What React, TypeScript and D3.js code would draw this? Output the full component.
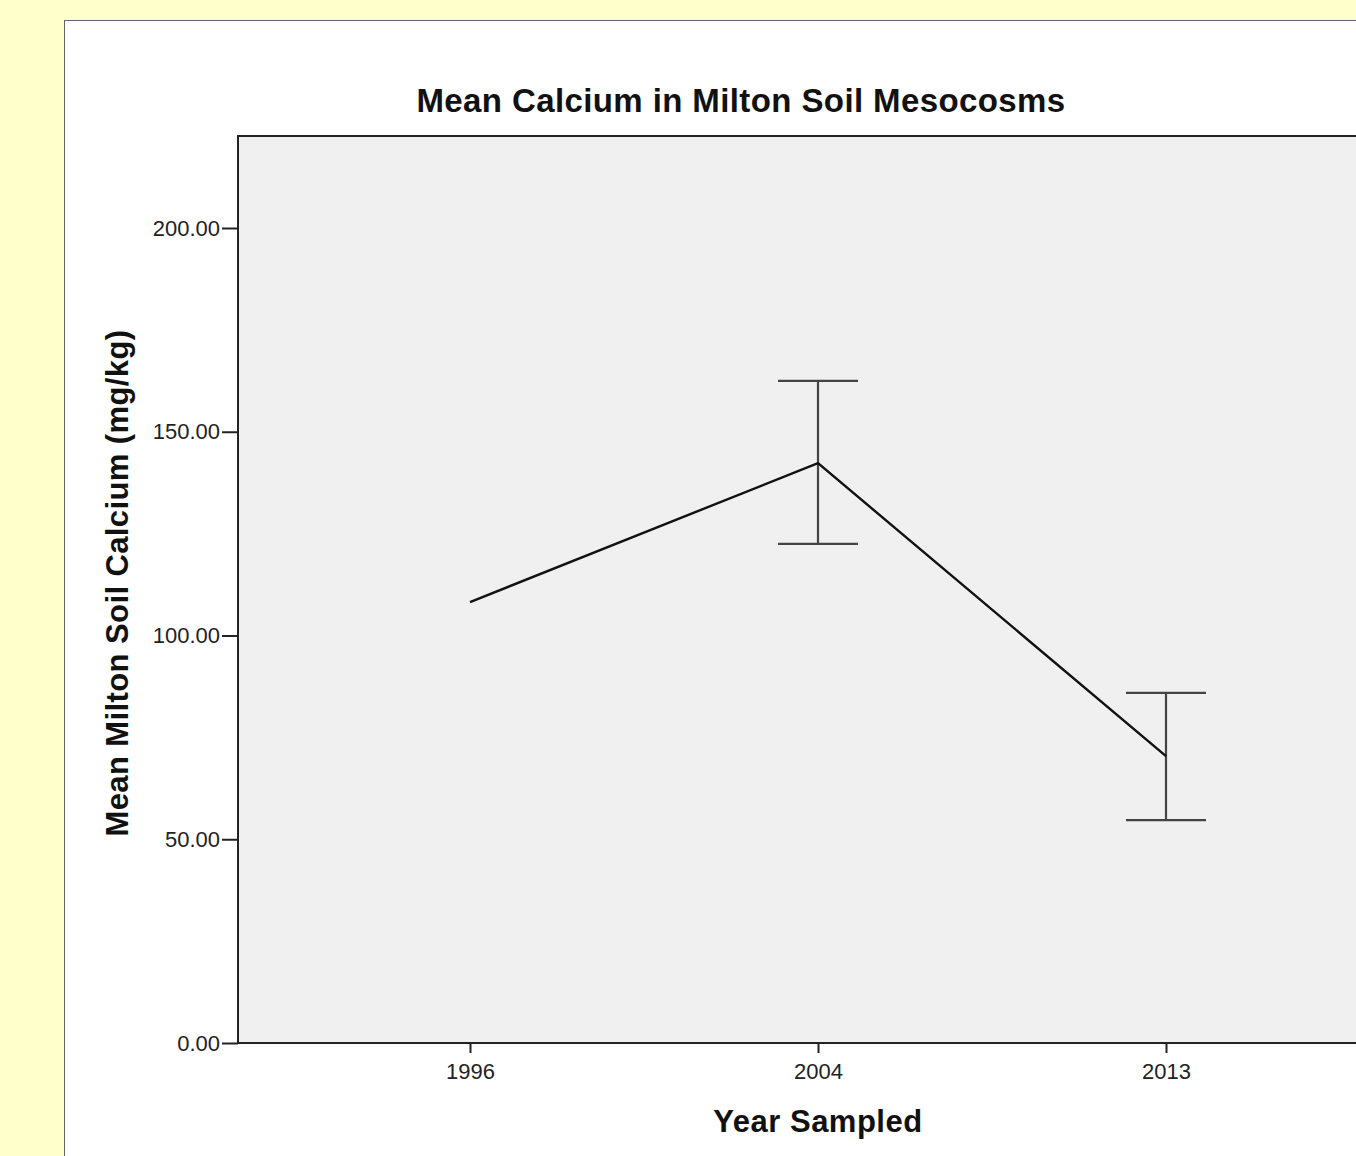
import React, { useEffect, useRef } from 'react';
import * as d3 from 'd3';

// data
const years = ['1996', '2004', '2013'];
const means = [108.2, 142.3, 70.4];
const upper = [null, 162.5, 85.9];
const lower = [null, 122.5, 54.7];
const yTicks = [0, 50, 100, 150, 200];

const App = () => {
  const ref = useRef<SVGSVGElement>(null);

  const width = 1356, height = 1156;
  const plotLeft = 238, plotTop = 136, plotBottom = 1043, plotRight = 1398;

  useEffect(() => {
    const svg = d3.select(ref.current);
    svg.selectAll('*').remove();

    // background
    svg.append('rect').attr('width', width).attr('height', height).attr('fill', '#FFFFCC');
    svg.append('rect')
      .attr('x', 64.5).attr('y', 20.5)
      .attr('width', width).attr('height', height)
      .attr('fill', '#fff').attr('stroke', '#666').attr('stroke-width', 1);

    const x = d3.scalePoint()
      .domain(years)
      .range([plotLeft, plotRight])
      .padding(2 / 3);

    const y = d3.scaleLinear()
      .domain([0, (plotBottom - plotTop) / ((plotBottom - 228) / 200)])
      .range([plotBottom, plotTop]);

    // plot area
    svg.append('rect')
      .attr('x', plotLeft).attr('y', plotTop)
      .attr('width', plotRight - plotLeft).attr('height', plotBottom - plotTop)
      .attr('fill', '#F0F0F0').attr('stroke', '#222').attr('stroke-width', 2);

    const font = 'Liberation Sans, Arial, sans-serif';

    // y axis
    svg.append('g')
      .attr('transform', `translate(${plotLeft},0)`)
      .call(d3.axisLeft(y).tickValues(yTicks).tickFormat(d3.format('.2f')).tickSize(16).tickPadding(2))
      .call(g => {
        g.select('.domain').remove();
        g.selectAll('.tick line').attr('stroke', '#222').attr('stroke-width', 2);
        g.selectAll('.tick text')
          .attr('font-family', font).attr('font-size', 22).attr('fill', '#222');
      });

    // x axis
    svg.append('g')
      .attr('transform', `translate(0,${plotBottom})`)
      .call(d3.axisBottom(x).tickSize(10).tickPadding(10))
      .call(g => {
        g.select('.domain').remove();
        g.selectAll('.tick line').attr('stroke', '#222').attr('stroke-width', 2);
        g.selectAll('.tick text')
          .attr('font-family', font).attr('font-size', 22).attr('fill', '#222');
      });

    // error bars
    const capHalf = 40;
    years.forEach((yr, i) => {
      if (upper[i] == null || lower[i] == null) return;
      const cx = x(yr)!;
      const g = svg.append('g').attr('stroke', '#444').attr('stroke-width', 2.2).attr('fill', 'none');
      g.append('line').attr('x1', cx).attr('x2', cx).attr('y1', y(upper[i]!)).attr('y2', y(lower[i]!));
      g.append('line').attr('x1', cx - capHalf).attr('x2', cx + capHalf).attr('y1', y(upper[i]!)).attr('y2', y(upper[i]!));
      g.append('line').attr('x1', cx - capHalf).attr('x2', cx + capHalf).attr('y1', y(lower[i]!)).attr('y2', y(lower[i]!));
    });

    // mean line
    const line = d3.line<number>()
      .x((_, i) => x(years[i])!)
      .y(d => y(d));
    svg.append('path')
      .datum(means)
      .attr('d', line)
      .attr('fill', 'none')
      .attr('stroke', '#111')
      .attr('stroke-width', 2.4);

    // titles
    svg.append('text')
      .attr('x', 741).attr('y', 112)
      .attr('text-anchor', 'middle')
      .attr('font-family', font).attr('font-weight', 'bold').attr('font-size', 33)
      .attr('letter-spacing', 0.4)
      .attr('fill', '#111')
      .text('Mean Calcium in Milton Soil Mesocosms');

    svg.append('text')
      .attr('x', 818).attr('y', 1132)
      .attr('text-anchor', 'middle')
      .attr('font-family', font).attr('font-weight', 'bold').attr('font-size', 31)
      .attr('letter-spacing', 0.5)
      .attr('fill', '#111')
      .text('Year Sampled');

    svg.append('text')
      .attr('transform', `translate(128,583) rotate(-90)`)
      .attr('text-anchor', 'middle')
      .attr('font-family', font).attr('font-weight', 'bold').attr('font-size', 31)
      .attr('letter-spacing', 0.4)
      .attr('fill', '#111')
      .text('Mean Milton Soil Calcium (mg/kg)');
  }, []);

  return (
    <svg ref={ref} width={width} height={height}
      style={{ position: 'absolute', left: 0, top: 0, display: 'block' }} />
  );
};

export default App;
